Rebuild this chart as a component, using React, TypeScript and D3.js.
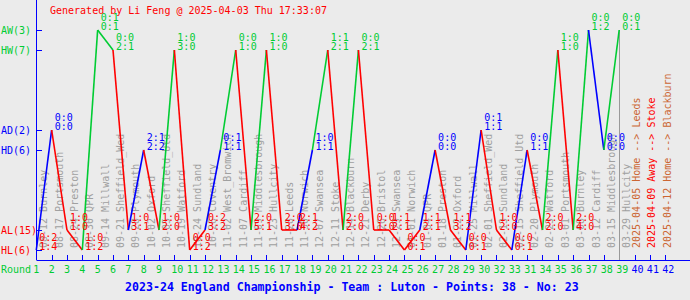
import React from 'react';
import * as d3 from 'd3';

const roundLabels = [1,2,3,4,5,6,7,8,9,10,11,12,13,14,15,16,17,18,19,20,21,22,23,24,25,26,27,28,29,30,32,33,31,34,35,36,37,38,39,40,41,42];
const matchDates = ["08-12","08-17","08-24","08-30","09-14","09-21","09-28","10-02","10-05","10-19","10-24","10-26","11-02","11-07","11-09","11-23","11-28","11-30","12-07","12-11","12-14","12-21","12-26","12-29","01-01","01-04","01-18","01-22","01-25","02-01","02-13","02-15","02-20","02-23","03-01","03-08","03-12","03-15","03-29"];
const opponents = ["Burnley","Portsmouth","Preston","QPR","Millwall","Sheffield_Wed","Plymouth","Oxford","Sheffield_Utd","Watford","Sundland","Coventry","West_Bromwich","Cardiff","Middlesbrough","Hullcity","Leeds","Norwich","Swansea","Stoke","Blackburn","Derby","Bristol","Swansea","Norwich","QPR","Preston","Oxford","Millwall","Sheffield_Wed","Sundland","Sheffield_Utd","Plymouth","Watford","Portsmouth","Burnley","Cardiff","Middlesbrough","Hullcity"];
const venues = ["H","A","A","H","A","H","A","H","A","H","H","A","H","H","A","H","A","A","H","H","A","H","A","A","H","A","H","A","H","A","A","H","H","A","H","A","A","H","A"];
const outcomes = ["L","D","L","L","W","W","L","D","L","W","L","L","D","W","L","W","L","L","D","W","L","W","L","L","L","L","D","L","L","D","L","L","D","L","W","L","W","D","W"];
const halfTime = ["0:2","0:0","1:0","1:0","0:1","0:0","1:0","2:1","1:0","1:0","0:0","0:2","0:1","0:0","2:0","1:0","2:0","2:1","1:0","1:1","2:0","0:0","0:0","1:1","0:0","1:1","0:0","1:1","0:0","0:1","1:0","0:0","0:0","2:0","1:0","2:0","0:0","0:0","0:0"];
const fullTime = ["1:4","0:0","1:0","1:2","0:1","2:1","3:1","2:2","2:0","3:0","1:2","3:2","1:1","1:0","5:1","1:0","3:0","4:2","1:1","2:1","2:0","2:1","1:0","2:1","0:1","2:1","0:0","3:2","0:1","1:1","2:0","0:1","1:1","2:0","1:0","4:0","1:2","0:0","0:1"];
const futureDates = ["2025-04-05","2025-04-09","2025-04-12"];
const futureVenues = ["Home","Away","Home"];
const futureOpponents = ["Leeds","Stoke","Blackburn"];

const levelOrder = ["AW","HW","AD","HD","AL","HL"];

const GREEN = "#00cc33";
const BLUE = "#0000ff";
const RED = "#ff0000";
const GRAY = "#a0a0a0";
const BROWN = "#cc6633";
const FONT = "'DejaVu Sans Mono', monospace";

const outcomeColor: Record<string, string> = { W: GREEN, D: BLUE, L: RED };

export default function App() {
  const W = 690, H = 300;
  const x = d3.scaleLinear().domain([1, 42]).range([36.3, 665.2]);
  const group = d3.scalePoint<string>().domain(["W", "D", "L"]).range([30, 230]);
  const yOf = (venue: string, outcome: string) => (group(outcome) as number) + (venue === "H" ? 20 : 0);
  const yLevel = (lvl: string) => yOf(lvl[0], lvl[1] === "W" ? "W" : lvl[1] === "D" ? "D" : "L");

  const played = outcomes.map((o, i) => ({
    i: i + 1,
    o,
    v: venues[i],
    px: x(i + 1),
    py: yOf(venues[i], o),
  }));
  const counts: Record<string, number> = {};
  levelOrder.forEach((l) => (counts[l] = 0));
  played.forEach((p) => {
    counts[(p.v === "H" ? "H" : "A") + p.o]++;
  });
  const points = played.reduce((s, p) => s + (p.o === "W" ? 3 : p.o === "D" ? 1 : 0), 0);
  const nPlayed = played.length;
  const lastX = x(nPlayed);
  const axisY = 260;

  return (
    <svg width={W} height={H} style={{ position: "absolute", left: 0, top: 0, display: "block" }} fontFamily={FONT}>
      <rect x={0} y={0} width={W} height={H} fill="#ebebeb" />
      {/* title */}
      <text x={50} y={13.5} fontSize={10} fill={RED}>Generated by Li Feng @ 2025-04-03 Thu 17:33:07</text>
      {/* axes */}
      <line x1={36.5} y1={0} x2={36.5} y2={axisY} stroke={BLUE} strokeWidth={1} />
      <line x1={36.5} y1={axisY + 0.5} x2={W} y2={axisY + 0.5} stroke={BLUE} strokeWidth={1} />
      {levelOrder.map((l) => {
        const yy = yLevel(l);
        const c = l[1] === "W" ? GREEN : l[1] === "D" ? BLUE : RED;
        return (
          <g key={l}>
            <line x1={36.5} y1={yy + 0.5} x2={42} y2={yy + 0.5} stroke={BLUE} />
            <text x={1} y={yy + 3.5} fontSize={10} fill={c}>{`${l}(${counts[l]})`}</text>
          </g>
        );
      })}
      {roundLabels.map((r, k) => (
        <g key={"t" + k}>
          {k > 0 && <line x1={Math.round(x(k + 1)) + 0.5} y1={axisY - 5} x2={Math.round(x(k + 1)) + 0.5} y2={axisY} stroke={BLUE} />}
          <text x={x(k + 1) - 3} y={272.5} fontSize={10} fill={k < nPlayed ? GREEN : BLUE}>{r}</text>
        </g>
      ))}
      <text x={1} y={272.5} fontSize={10} fill={GREEN}>Round</text>
      {/* separator at last played */}
      <line x1={Math.round(lastX) + 0.5} y1={30} x2={Math.round(lastX) + 0.5} y2={axisY} stroke="#999999" />
      {/* vertical match texts */}
      {played.map((p, k) => (
        <text key={"m" + k} transform={`translate(${p.px + 11},248) rotate(-90)`} fontSize={10} fill={GRAY}>
          {`${matchDates[k]} ${opponents[k]}`}
        </text>
      ))}
      {futureDates.map((d, k) => (
        <text key={"f" + k} transform={`translate(${x(nPlayed + k + 1) + 5.5},248) rotate(-90)`} fontSize={10} fill={futureVenues[k] === "Away" ? RED : BROWN}>
          {`${d} ${futureVenues[k]} --> ${futureOpponents[k]}`}
        </text>
      ))}
      {/* line segments */}
      {played.slice(1).map((p, k) => (
        <line key={"s" + k} x1={played[k].px} y1={played[k].py} x2={p.px} y2={p.py} stroke={outcomeColor[p.o]} strokeWidth={1.6} />
      ))}
      {/* score labels */}
      {played.map((p, k) => (
        <g key={"l" + k} fill={outcomeColor[p.o]} fontSize={10}>
          <text x={p.px + 3} y={p.py - 9.5}>{halfTime[k]}</text>
          <text x={p.px + 3} y={p.py + 0.2}>{fullTime[k]}</text>
        </g>
      ))}
      {/* bottom title */}
      <text x={125} y={291} fontSize={11.6} fontWeight="bold" fill={BLUE}>
        {`2023-24 England Championship - Team : Luton - Points: ${points} - No: 23`}
      </text>
    </svg>
  );
}
